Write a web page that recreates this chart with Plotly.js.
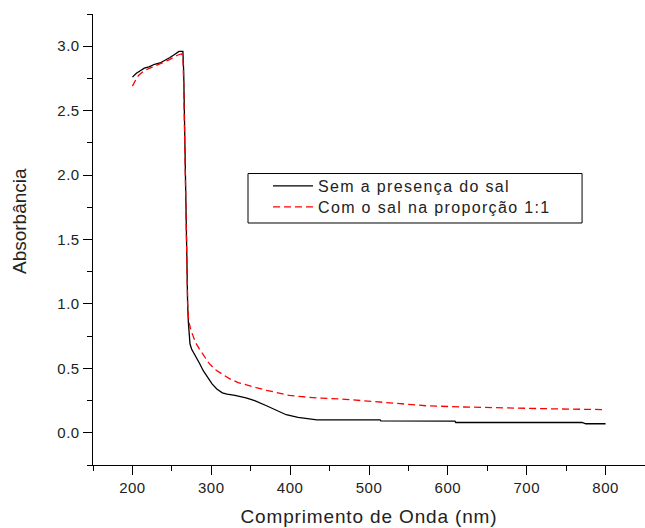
<!DOCTYPE html>
<html>
<head>
<meta charset="utf-8">
<script src="https://cdn.plot.ly/plotly-3.0.1.min.js"></script>
<style>
html,body{margin:0;padding:0;background:#fff;}
#chart{width:645px;height:528px;}
.xtick text,.ytick text{letter-spacing:0.5px;}
.xtitle{letter-spacing:0.85px;}
</style>
</head>
<body>
<div id="chart"></div>
<script>
// Series 1: Sem a presença do sal (black)
const semX = [200, 205, 210, 215, 221, 228, 235, 242, 247, 252, 256, 259, 262, 264, 265, 266, 267, 268, 269, 270, 271, 272, 273, 275, 280, 285, 290, 295, 301, 307, 314, 320, 330, 344, 355, 370, 385, 395, 410, 420, 434, 460, 500, 514, 515, 560, 600, 609, 610, 700, 770, 775, 800];
const semY = [2.76, 2.79, 2.81, 2.83, 2.84, 2.86, 2.87, 2.89, 2.91, 2.93, 2.95, 2.96, 2.96, 2.96, 2.80, 2.40, 2.00, 1.60, 1.25, 1.00, 0.85, 0.75, 0.69, 0.65, 0.60, 0.54, 0.48, 0.43, 0.38, 0.34, 0.31, 0.30, 0.29, 0.27, 0.25, 0.21, 0.17, 0.14, 0.12, 0.11, 0.10, 0.10, 0.10, 0.10, 0.093, 0.09, 0.09, 0.09, 0.08, 0.08, 0.08, 0.07, 0.07];
// Series 2: Com o sal na proporção 1:1 (red dashed)
const comX = [200, 203, 206, 209, 215, 222, 230, 238, 245, 251, 257, 262, 264, 265, 266, 267, 268, 269, 270, 271, 272, 274, 277, 280, 285, 290, 297, 305, 315, 323, 334, 344, 357, 370, 385, 399, 415, 434, 470, 513, 540, 572, 620, 681, 740, 800];
const comY = [2.69, 2.73, 2.76, 2.78, 2.81, 2.83, 2.85, 2.87, 2.89, 2.91, 2.93, 2.94, 2.93, 2.70, 2.30, 1.90, 1.50, 1.20, 1.00, 0.90, 0.85, 0.80, 0.74, 0.70, 0.65, 0.60, 0.54, 0.49, 0.45, 0.42, 0.39, 0.37, 0.35, 0.33, 0.31, 0.29, 0.28, 0.27, 0.26, 0.24, 0.23, 0.21, 0.20, 0.19, 0.185, 0.18];
const seriesNames = ["Sem a presença do sal", "Com o sal na proporção 1:1"];
const xTicks = [200, 300, 400, 500, 600, 700, 800];
const yTicks = [0.0, 0.5, 1.0, 1.5, 2.0, 2.5, 3.0];
const xTitle = "Comprimento de Onda (nm)";
const yTitle = "Absorbância";

const font = "Liberation Sans, Arial, sans-serif";
const legFont = {family: font, size: 16, color: "#222222"};
const traces = [
  {x: semX, y: semY, name: seriesNames[0], mode: "lines", legend: "legend", line: {color: "#000000", width: 1.3}},
  {x: comX, y: comY, name: seriesNames[1], mode: "lines", legend: "legend2", line: {color: "#ff0000", width: 1.3, dash: "7px,4px"}}
];
const legendBase = {xanchor: "left", yanchor: "middle", borderwidth: 0, bgcolor: "rgba(0,0,0,0)", font: legFont, itemwidth: 40};
const layout = {
  width: 645, height: 528,
  margin: {l: 93, r: 0, t: 14, b: 63},
  paper_bgcolor: "#ffffff", plot_bgcolor: "#ffffff",
  font: {family: font, color: "#222222", size: 15},
  showlegend: true,
  legend: Object.assign({x: 0.317, y: 0.6186}, legendBase),
  legend2: Object.assign({x: 0.317, y: 0.5721}, legendBase),
  shapes: [{type: "rect", xref: "paper", yref: "paper", x0: 0.2808, x1: 0.886, y0: 0.5366, y1: 0.6463,
            line: {color: "#000000", width: 1}, fillcolor: "rgba(0,0,0,0)", layer: "above"}],
  annotations: [{text: yTitle, xref: "paper", yref: "paper", x: -0.134, y: 0.541, xanchor: "center", yanchor: "middle",
                 textangle: -90, showarrow: false, font: {family: font, size: 19, color: "#222222"}}],
  xaxis: {
    range: [150, 850], tickvals: xTicks, ticks: "outside", ticklen: 9, tickwidth: 1, tickcolor: "#000",
    showline: true, linecolor: "#000", linewidth: 1.3, showgrid: false, zeroline: false,
    minor: {dtick: 50, tick0: 150, ticks: "outside", ticklen: 5, tickcolor: "#000", showgrid: false},
    tickfont: {size: 15},
    title: {text: xTitle, font: {size: 19}, standoff: 14}
  },
  yaxis: {
    range: [-0.25, 3.25], tickvals: yTicks, tickformat: ".1f", ticks: "outside", ticklen: 9, tickwidth: 1, tickcolor: "#000",
    showline: true, linecolor: "#000", linewidth: 1.3, showgrid: false, zeroline: false,
    minor: {dtick: 0.25, tick0: 0, ticks: "outside", ticklen: 5, tickcolor: "#000", showgrid: false},
    tickfont: {size: 15}
  }
};
function spaceLegend() {
  document.querySelectorAll(".infolayer [clip-path]").forEach(function (e) { e.removeAttribute("clip-path"); });
  document.querySelectorAll("#chart text, #chart tspan").forEach(function (t) {
    if (seriesNames.indexOf(t.textContent) >= 0) {
      t.style.setProperty("letter-spacing", "1.35px", "important");
    }
  });
}
Plotly.newPlot("chart", traces, layout, {displayModeBar: false, staticPlot: true}).then(function () {
  spaceLegend();
  setTimeout(spaceLegend, 50);
  requestAnimationFrame(spaceLegend);
});
</script>
</body>
</html>
